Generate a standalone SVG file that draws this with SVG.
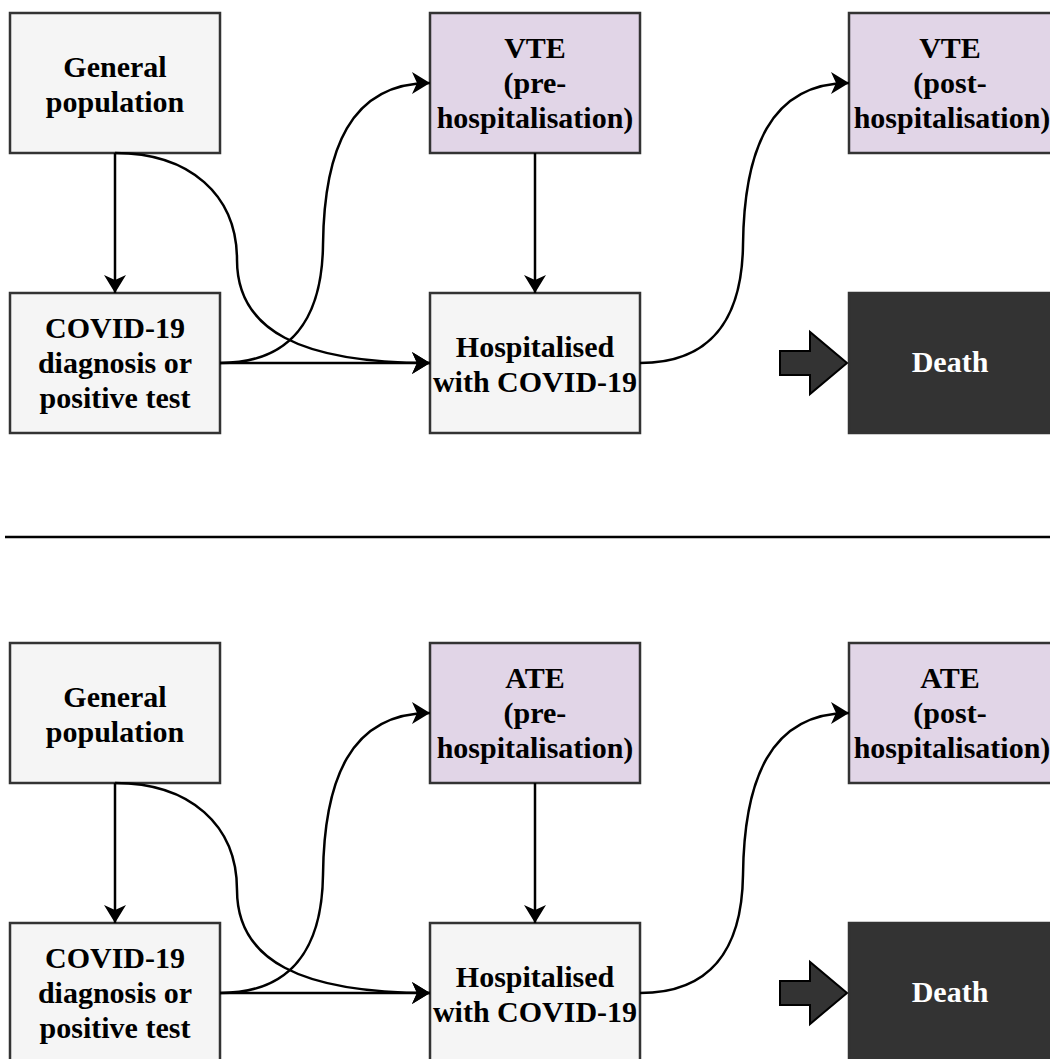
<svg xmlns="http://www.w3.org/2000/svg" width="1050" height="1059" viewBox="0 0 1050 1059">
<style>
.box{stroke:#333333;stroke-width:2.5}
.grey{fill:#f5f5f5}
.purple{fill:#e1d5e7}
.dark{fill:#333333}
.t{font-family:"Liberation Serif","Times New Roman",serif;font-weight:bold;font-size:30px;text-anchor:middle;fill:#000}
.tw{fill:#ffffff}
.edge{fill:none;stroke:#000;stroke-width:2.5}
</style>
<defs>
<marker id="arr" markerUnits="userSpaceOnUse" viewBox="0 0 18 22" refX="18" refY="11" markerWidth="18" markerHeight="22" orient="auto">
<path d="M0,0 L18,11 L0,22 L5,11 Z" fill="#000"/>
</marker>
</defs>
<rect width="1050" height="1059" fill="#ffffff"/>

<g id="top">
<g id="gen1"><rect class="box grey" x="10" y="13" width="210" height="140"/><text class="t" x="115" y="77">General</text><text class="t" x="115" y="112">population</text></g>
<g id="covid1"><rect class="box grey" x="10" y="293" width="210" height="140"/><text class="t" x="115" y="338">COVID-19</text><text class="t" x="115" y="373">diagnosis or</text><text class="t" x="115" y="408">positive test</text></g>
<g id="vtepre"><rect class="box purple" x="430" y="13" width="210" height="140"/><text class="t" x="535" y="58">VTE</text><text class="t" x="535" y="93">(pre-</text><text class="t" x="535" y="128">hospitalisation)</text></g>
<g id="hosp1"><rect class="box grey" x="430" y="293" width="210" height="140"/><text class="t" x="535" y="357">Hospitalised</text><text class="t" x="535" y="392">with COVID-19</text></g>
<g id="vtepost"><rect class="box purple" x="849" y="13" width="220" height="140"/><text class="t" x="950" y="58">VTE</text><text class="t" x="950" y="93">(post-</text><text class="t" x="952" y="128">hospitalisation)</text></g>
<g id="death1"><rect class="box dark" x="849" y="293" width="220" height="140"/><text class="t tw" x="950" y="372">Death</text></g>
<g id="blk1"><polygon points="780,351 810,351 810,332 847,363 810,394 810,375 780,375" fill="#333333" stroke="#000" stroke-width="2"/></g>
</g>

<g id="bottom" transform="translate(0,630)">
<g id="gen2"><rect class="box grey" x="10" y="13" width="210" height="140"/><text class="t" x="115" y="77">General</text><text class="t" x="115" y="112">population</text></g>
<g id="covid2"><rect class="box grey" x="10" y="293" width="210" height="140"/><text class="t" x="115" y="338">COVID-19</text><text class="t" x="115" y="373">diagnosis or</text><text class="t" x="115" y="408">positive test</text></g>
<g id="atepre"><rect class="box purple" x="430" y="13" width="210" height="140"/><text class="t" x="535" y="58">ATE</text><text class="t" x="535" y="93">(pre-</text><text class="t" x="535" y="128">hospitalisation)</text></g>
<g id="hosp2"><rect class="box grey" x="430" y="293" width="210" height="140"/><text class="t" x="535" y="357">Hospitalised</text><text class="t" x="535" y="392">with COVID-19</text></g>
<g id="atepost"><rect class="box purple" x="849" y="13" width="220" height="140"/><text class="t" x="950" y="58">ATE</text><text class="t" x="950" y="93">(post-</text><text class="t" x="952" y="128">hospitalisation)</text></g>
<g id="death2"><rect class="box dark" x="849" y="293" width="220" height="140"/><text class="t tw" x="950" y="372">Death</text></g>
<g id="blk2"><polygon points="780,351 810,351 810,332 847,363 810,394 810,375 780,375" fill="#333333" stroke="#000" stroke-width="2"/></g>
</g>

<g id="connectors">
<line x1="5" y1="537" x2="1050" y2="537" stroke="#000" stroke-width="2.5"/>
<g id="c-top">
<path class="edge" d="M115,153 L115,293" marker-end="url(#arr)"/>
<path class="edge" d="M115,153 C190,153 237,195 237,260 C237,330 300,363 430,363" marker-end="url(#arr)"/>
<path class="edge" d="M220,363 L430,363" marker-end="url(#arr)"/>
<path class="edge" d="M220,363 C290,363 322,320 323,245 C324,150 350,83 430,83" marker-end="url(#arr)"/>
<path class="edge" d="M535,153 L535,293" marker-end="url(#arr)"/>
<path class="edge" d="M640,363 C710,363 742,320 743,245 C744,150 770,83 849,83" marker-end="url(#arr)"/>
</g>
<g id="c-bottom" transform="translate(0,630)">
<path class="edge" d="M115,153 L115,293" marker-end="url(#arr)"/>
<path class="edge" d="M115,153 C190,153 237,195 237,260 C237,330 300,363 430,363" marker-end="url(#arr)"/>
<path class="edge" d="M220,363 L430,363" marker-end="url(#arr)"/>
<path class="edge" d="M220,363 C290,363 322,320 323,245 C324,150 350,83 430,83" marker-end="url(#arr)"/>
<path class="edge" d="M535,153 L535,293" marker-end="url(#arr)"/>
<path class="edge" d="M640,363 C710,363 742,320 743,245 C744,150 770,83 849,83" marker-end="url(#arr)"/>
</g>
</g>
</svg>
